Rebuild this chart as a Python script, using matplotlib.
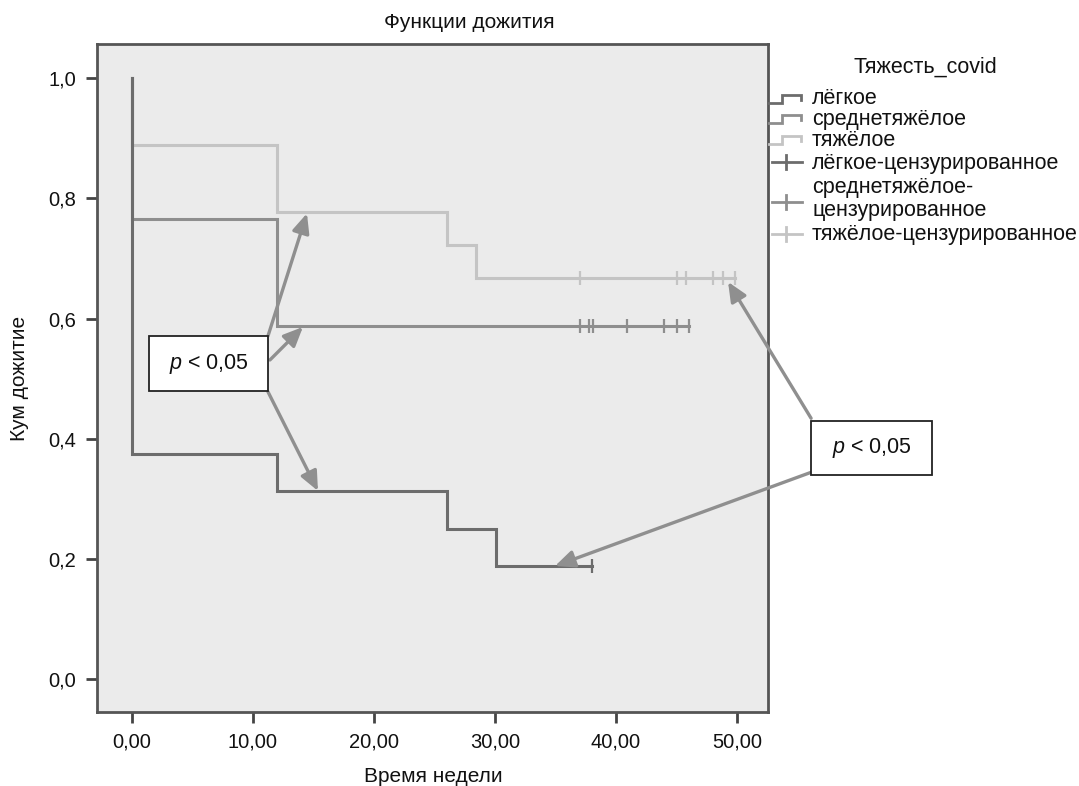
import matplotlib
matplotlib.use("Agg")
import matplotlib.pyplot as plt
from matplotlib.patches import Rectangle
from matplotlib.lines import Line2D

plt.rcParams['font.family'] = ['Liberation Sans', 'DejaVu Sans']
plt.rcParams['mathtext.fontset'] = 'custom'
plt.rcParams['mathtext.it'] = 'Liberation Sans:italic'
plt.rcParams['mathtext.rm'] = 'Liberation Sans'

# ---- data ----
groups = ["лёгкое", "среднетяжёлое", "тяжёлое"]
censor_labels = ["лёгкое-цензурированное", "среднетяжёлое-\nцензурированное", "тяжёлое-цензурированное"]

event_times_mild = [0, 12, 26, 30.1]
surv_mild = [0.375, 0.3125, 0.25, 0.1875]
censor_mild = [38.0]

event_times_moderate = [0, 12]
surv_moderate = [0.765, 0.588]
censor_moderate = [37.0, 37.8, 38.1, 40.9, 44.0, 45.0, 46.0]

event_times_severe = [0, 12, 26, 28.4]
surv_severe = [0.889, 0.778, 0.722, 0.667]
censor_severe = [37.0, 45.0, 45.8, 48.0, 48.8, 49.8]

xticks = [0, 10, 20, 30, 40, 50]
yticks = [0.0, 0.2, 0.4, 0.6, 0.8, 1.0]

colors = ['#6c6c6c', '#8e8e8e', '#c4c4c4']

W, H = 1079, 786
fig = plt.figure(figsize=(W / 100, H / 100), dpi=100)
fig.patch.set_facecolor('white')

def fx(px):
    return px / W

def fy(py):
    return 1 - py / H

ax = fig.add_axes([fx(97), fy(712), fx(768) - fx(97), fy(44) - fy(712)])
ax.set_facecolor('#ebebeb')
ax.set_xlim(-2.89, 52.56)
ax.set_ylim(-0.055, 1.057)

series = [
    (event_times_mild, surv_mild, censor_mild),
    (event_times_moderate, surv_moderate, censor_moderate),
    (event_times_severe, surv_severe, censor_severe),
]
# draw light first so darker lines sit on top
for idx in [2, 1, 0]:
    times, surv, cens = series[idx]
    end = max(cens)
    xs = [0] + list(times) + [end]
    ys = [1.0] + list(surv) + [surv[-1]]
    ax.step(xs, ys, where='post', color=colors[idx], lw=2.2, solid_joinstyle='miter', zorder=2 + (2 - idx))
    ax.plot(cens, [surv[-1]] * len(cens), linestyle='none', marker='|', markersize=10,
            markeredgewidth=1.6, color=colors[idx], zorder=5)

ax.set_xticks(xticks)
ax.set_xticklabels([f"{v:.2f}".replace('.', ',') for v in xticks])
ax.set_yticks(yticks)
ax.set_yticklabels([f"{v:.1f}".replace('.', ',') for v in yticks])
ax.tick_params(axis='both', labelsize=14.5, color='#444444', width=2, length=8, pad=7, labelcolor='#111111')
for s in ax.spines.values():
    s.set_color('#555555')
    s.set_linewidth(2)

fig.text(fx(469), fy(23), "Функции дожития", ha='center', va='center', fontsize=15, color='#111111')
fig.text(fx(433), fy(777), "Время недели", ha='center', va='center', fontsize=15, color='#111111')
fig.text(fx(20), fy(378), "Кум дожитие", ha='center', va='center', rotation=90, fontsize=15, color='#111111')

# ---- annotations ----
arrow_color = '#8f8f8f'
boxes = [
    # (x0, y0, x1, y1) in data coords
    (1.40, 0.479, 11.24, 0.571),
    (56.12, 0.339, 66.1, 0.429),
]
for (x0, y0, x1, y1) in boxes:
    ax.add_patch(Rectangle((x0, y0), x1 - x0, y1 - y0, facecolor='white', edgecolor='#222222',
                           lw=1.3, clip_on=False, zorder=8))
    ax.text((x0 + x1) / 2, (y0 + y1) / 2, r"$p$ < 0,05", ha='center', va='center', fontsize=15.5,
            color='#111111', zorder=9, clip_on=False)

arrows = [
    ((11.24, 0.571), (14.46, 0.775)),
    ((11.40, 0.531), (14.13, 0.586)),
    ((11.24, 0.478), (15.37, 0.313)),
    ((56.12, 0.434), (49.26, 0.661)),
    ((56.12, 0.344), (34.96, 0.188)),
]
for tail, head in arrows:
    ax.annotate('', xy=head, xytext=tail,
                arrowprops=dict(arrowstyle='-|>,head_length=0.9,head_width=0.4', color=arrow_color,
                                lw=2.4, shrinkA=0, shrinkB=0, mutation_scale=13),
                annotation_clip=False, zorder=7)

# ---- legend (manual) ----
fig.text(fx(925), fy(67), "Тяжесть_covid", ha='center', va='center', fontsize=15.5, color='#111111')
step_rows = [103, 123, 144]
text_rows = [98, 119, 141]
for i in range(3):
    y0 = step_rows[i]
    xs = [769, 782, 782, 801, 801]
    ys = [y0, y0, y0 - 8, y0 - 8, y0 - 3]
    fig.add_artist(Line2D([fx(v) for v in xs], [fy(v) for v in ys], color=colors[i], lw=2.0,
                          solid_joinstyle='miter'))
    fig.text(fx(812), fy(text_rows[i]), groups[i], ha='left', va='center', fontsize=15.5, color='#111111')

cens_rows = [162, 202, 234]
cens_text_rows = [163, 199, 235]
for i in range(3):
    yc = cens_rows[i]
    fig.add_artist(Line2D([fx(772), fx(802)], [fy(yc), fy(yc)], color=colors[i], lw=2.0))
    fig.add_artist(Line2D([fx(786), fx(786)], [fy(yc - 7), fy(yc + 7)], color=colors[i], lw=2.0))
    fig.text(fx(812), fy(cens_text_rows[i]), censor_labels[i], ha='left', va='center', fontsize=15.5,
             color='#111111', linespacing=1.15)

fig.savefig('out.png', dpi=100, facecolor='white')
